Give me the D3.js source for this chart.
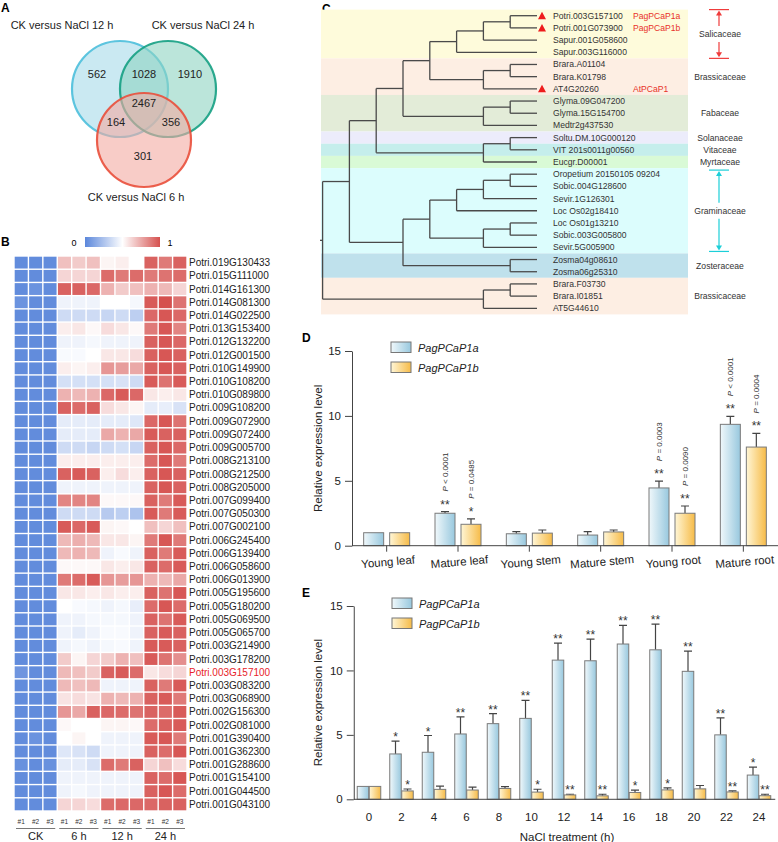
<!DOCTYPE html>
<html>
<head>
<meta charset="utf-8">
<script src="https://cdn.jsdelivr.net/npm/d3@7"></script>
<style>
body { margin: 0; background: #fff; }
svg { font-family: "Liberation Sans", Arial, sans-serif; }
</style>
</head>
<body>
<svg id="fig" width="778" height="842"></svg>
<script>
// ---------- data ----------
const vennSets = ["CK versus NaCl 12 h", "CK versus NaCl 24 h", "CK versus NaCl 6 h"];
// 12 only, 12&24, 24 only, all, 12&6, 24&6, 6 only
const vennCounts = [562, 1028, 1910, 2467, 164, 356, 301];

const heatGroups = ["CK", "6 h", "12 h", "24 h"];
const heatReps = ["#1", "#2", "#3"];
const heatGenes = [
  "Potri.019G130433","Potri.015G111000","Potri.014G161300","Potri.014G081300","Potri.014G022500",
  "Potri.013G153400","Potri.012G132200","Potri.012G001500","Potri.010G149900","Potri.010G108200",
  "Potri.010G089800","Potri.009G108200","Potri.009G072900","Potri.009G072400","Potri.009G005700",
  "Potri.008G213100","Potri.008G212500","Potri.008G205000","Potri.007G099400","Potri.007G050300",
  "Potri.007G002100","Potri.006G245400","Potri.006G139400","Potri.006G058600","Potri.006G013900",
  "Potri.005G195600","Potri.005G180200","Potri.005G069500","Potri.005G065700","Potri.003G214900",
  "Potri.003G178200","Potri.003G157100","Potri.003G083200","Potri.003G068900","Potri.002G156300",
  "Potri.002G081000","Potri.001G390400","Potri.001G362300","Potri.001G288600","Potri.001G154100",
  "Potri.001G044500","Potri.001G043100"
];
const highlightGene = "Potri.003G157100";
// CK #1-3, 6 h #1-3, 12 h #1-3, 24 h #1-3
const heatValues = [
  [0.02,0.02,0.02, 0.68,0.65,0.68, 0.53,0.55,0.50, 0.95,0.88,0.95],
  [0.02,0.02,0.02, 0.62,0.62,0.62, 0.92,0.88,0.92, 0.88,0.90,0.92],
  [0.02,0.05,0.02, 0.95,0.95,0.93, 0.72,0.65,0.68, 0.72,0.70,0.62],
  [0.05,0.02,0.02, 0.45,0.45,0.45, 0.50,0.50,0.47, 0.97,1.00,0.90],
  [0.02,0.02,0.02, 0.35,0.35,0.35, 0.33,0.35,0.30, 0.93,0.98,0.93],
  [0.02,0.02,0.02, 0.55,0.57,0.52, 0.60,0.57,0.52, 0.88,0.98,0.85],
  [0.02,0.02,0.02, 0.45,0.45,0.47, 0.45,0.45,0.45, 0.95,0.98,0.93],
  [0.02,0.02,0.02, 0.48,0.48,0.50, 0.57,0.57,0.60, 0.95,0.98,0.95],
  [0.02,0.02,0.02, 0.55,0.53,0.55, 0.80,0.78,0.75, 0.95,0.98,0.95],
  [0.02,0.02,0.02, 0.37,0.37,0.37, 0.37,0.38,0.35, 0.97,0.90,0.97],
  [0.02,0.02,0.02, 0.72,0.70,0.72, 0.93,0.97,0.93, 0.57,0.55,0.57],
  [0.02,0.02,0.02, 0.95,0.92,0.95, 0.60,0.57,0.53, 0.42,0.43,0.38],
  [0.02,0.02,0.02, 0.42,0.42,0.42, 0.42,0.42,0.40, 0.93,0.98,0.90],
  [0.02,0.02,0.02, 0.42,0.42,0.42, 0.75,0.72,0.75, 0.97,0.95,0.95],
  [0.02,0.02,0.02, 0.35,0.35,0.33, 0.35,0.37,0.33, 0.95,0.98,0.93],
  [0.02,0.02,0.02, 0.55,0.55,0.55, 0.55,0.55,0.55, 0.92,0.98,0.88],
  [0.02,0.02,0.02, 0.95,0.97,0.95, 0.55,0.60,0.55, 0.95,0.98,0.95],
  [0.02,0.02,0.02, 0.45,0.45,0.45, 0.45,0.45,0.45, 0.95,0.98,0.95],
  [0.02,0.02,0.02, 0.85,0.85,0.85, 0.52,0.52,0.52, 0.95,0.88,0.97],
  [0.02,0.02,0.02, 0.35,0.35,0.35, 0.28,0.30,0.25, 0.97,0.88,0.97],
  [0.02,0.02,0.02, 0.97,0.93,0.97, 0.53,0.52,0.50, 0.68,0.62,0.68],
  [0.02,0.02,0.02, 0.70,0.73,0.70, 0.57,0.57,0.53, 0.88,0.98,0.88],
  [0.02,0.02,0.02, 0.70,0.72,0.70, 0.45,0.48,0.45, 0.95,0.88,0.97],
  [0.02,0.02,0.02, 0.52,0.52,0.52, 0.57,0.55,0.57, 0.95,0.92,0.97],
  [0.02,0.02,0.02, 0.88,0.92,0.97, 0.80,0.78,0.80, 0.72,0.70,0.75],
  [0.02,0.02,0.02, 0.57,0.57,0.55, 0.57,0.55,0.55, 0.95,0.90,0.98],
  [0.02,0.02,0.02, 0.50,0.48,0.47, 0.45,0.47,0.43, 0.92,0.98,0.92],
  [0.02,0.02,0.02, 0.45,0.45,0.47, 0.47,0.47,0.45, 0.95,0.90,0.97],
  [0.02,0.02,0.02, 0.45,0.42,0.45, 0.48,0.48,0.45, 0.95,0.97,0.95],
  [0.02,0.02,0.02, 0.45,0.47,0.45, 0.47,0.48,0.45, 0.97,0.97,0.95],
  [0.02,0.02,0.02, 0.65,0.53,0.62, 0.65,0.72,0.68, 0.97,0.90,0.82],
  [0.06,0.02,0.02, 0.70,0.68,0.65, 0.95,0.97,0.92, 0.57,0.60,0.62],
  [0.02,0.02,0.02, 0.70,0.68,0.70, 0.45,0.45,0.45, 0.95,0.88,0.97],
  [0.02,0.02,0.02, 0.58,0.60,0.58, 0.72,0.70,0.72, 0.95,0.97,0.88],
  [0.02,0.02,0.02, 0.80,0.75,0.95, 0.93,0.92,0.90, 0.95,0.92,0.97],
  [0.02,0.02,0.02, 0.52,0.50,0.50, 0.53,0.53,0.52, 0.92,0.95,0.97],
  [0.02,0.05,0.02, 0.50,0.53,0.50, 0.45,0.45,0.45, 0.97,0.98,0.88],
  [0.02,0.02,0.02, 0.40,0.38,0.35, 0.45,0.45,0.45, 0.95,0.92,0.98],
  [0.04,0.02,0.04, 0.42,0.42,0.38, 0.92,0.88,0.95, 0.62,0.68,0.60],
  [0.02,0.02,0.02, 0.45,0.45,0.45, 0.45,0.45,0.45, 0.95,0.92,0.98],
  [0.02,0.02,0.02, 0.45,0.47,0.45, 0.45,0.45,0.45, 0.95,0.98,0.92],
  [0.02,0.02,0.02, 0.62,0.62,0.60, 0.92,0.93,0.93, 0.93,0.95,0.95]
];

// phylogenetic tree (nested leaf names)
const treeData = [
  [
    [
      [
        [
          [[["Potri.003G157100", "Potri.001G073900"], "Sapur.001G058600"], "Sapur.003G116000"],
          [["Brara.A01104", "Brara.K01798"], "AT4G20260"]
        ],
        [["Glyma.09G047200", "Glyma.15G154700"], "Medtr2g437530"]
      ],
      [["Soltu.DM.10G000120", "VIT 201s0011g00560"], "Eucgr.D00001"]
    ],
    [
      [
        [[["Oropetium 20150105 09204", "Sobic.004G128600"], "Sevir.1G126301"], "Loc Os02g18410"],
        [["Loc Os01g13210", "Sobic.003G005800"], "Sevir.5G005900"]
      ],
      ["Zosma04g08610", "Zosma06g25310"]
    ]
  ],
  [["Brara.F03730", "Brara.I01851"], "AT5G44610"]
];
const markedLeaves = ["Potri.003G157100", "Potri.001G073900", "AT4G20260"];
const leafAliases = {"Potri.003G157100": "PagPCaP1a", "Potri.001G073900": "PagPCaP1b", "AT4G20260": "AtPCaP1"};
const families = ["Salicaceae", "Brassicaceae", "Fabaceae", "Solanaceae", "Vitaceae", "Myrtaceae",
                  "Graminaceae", "Zosteraceae", "Brassicaceae"];
const familySpans = [[0, 3], [4, 6], [7, 9], [10, 10], [11, 11], [12, 12], [13, 19], [20, 21], [22, 24]];

// panel D
const tissues = ["Young leaf", "Mature leaf", "Young stem", "Mature stem", "Young root", "Mature root"];
const genes = ["PagPCaP1a", "PagPCaP1b"];
const tisA = [1.0, 2.5, 0.92, 0.82, 4.45, 9.35];
const tisAErr = [0, 0.13, 0.16, 0.26, 0.52, 0.62];
const tisB = [1.0, 1.65, 0.97, 1.06, 2.5, 7.6];
const tisBErr = [0, 0.42, 0.24, 0.15, 0.56, 1.05];
const tisAStar = ["", "**", "", "", "**", "**"];
const tisBStar = ["", "*", "", "", "**", "**"];
const tisAP = ["", "P < 0.0001", "", "", "P = 0.0003", "P < 0.0001"];
const tisBP = ["", "P = 0.0485", "", "", "P = 0.0090", "P = 0.0004"];

// panel E
const hours = ["0", "2", "4", "6", "8", "10", "12", "14", "16", "18", "20", "22", "24"];
const naA = [1.0, 3.52, 3.65, 5.07, 5.87, 6.28, 10.8, 10.75, 12.05, 11.6, 9.93, 5.0, 1.88];
const naAErr = [0, 1.0, 1.3, 1.32, 0.78, 1.4, 1.32, 1.68, 1.45, 2.0, 1.57, 1.32, 0.62];
const naB = [1.0, 0.65, 0.77, 0.72, 0.84, 0.56, 0.34, 0.27, 0.53, 0.73, 0.81, 0.57, 0.28];
const naBErr = [0, 0.15, 0.25, 0.22, 0.15, 0.22, 0.05, 0.12, 0.18, 0.15, 0.26, 0.08, 0.11];
const naAStar = ["", "*", "*", "**", "**", "**", "**", "**", "**", "**", "**", "**", "*"];
const naBStar = ["", "*", "", "", "", "*", "**", "**", "*", "*", "", "**", "**"];

// ---------- setup ----------
const svg = d3.select("#fig");
const defs = svg.append("defs");

function grad(id, c0, c1) {
  const g = defs.append("linearGradient").attr("id", id)
    .attr("x1", "0%").attr("x2", "100%").attr("y1", "0%").attr("y2", "0%");
  g.append("stop").attr("offset", "0%").attr("stop-color", c0);
  g.append("stop").attr("offset", "100%").attr("stop-color", c1);
}
grad("gBlue", "#f0f8fb", "#98c8de");
grad("gOrange", "#fff6d6", "#f6bb48");

const panelLabel = (t, x, y) => svg.append("text").attr("x", x).attr("y", y)
  .attr("font-size", 12).attr("font-weight", "bold").text(t);

// ---------- A: venn ----------
panelLabel("A", 1, 12);
const venn = svg.append("g");
const vennCircles = [
  {cx: 120, cy: 89, r: 48, fill: "#a6dbe9", stroke: "#4dbfdb"},
  {cx: 168, cy: 89, r: 48, fill: "#8ed3c2", stroke: "#15a083"},
  {cx: 144, cy: 140, r: 47, fill: "#f3aaa1", stroke: "#e94f3b"}
];
venn.selectAll("circle").data(vennCircles).enter().append("circle")
  .attr("cx", d => d.cx).attr("cy", d => d.cy).attr("r", d => d.r)
  .attr("fill", d => d.fill).attr("fill-opacity", 0.6)
  .attr("stroke", d => d.stroke).attr("stroke-width", 2.2).attr("stroke-opacity", 0.9);
const vennNumPos = [[97, 74], [144, 74], [190, 74], [144, 103], [116, 122], [171, 122], [143, 156]];
venn.selectAll("text.num").data(vennCounts).enter().append("text")
  .attr("class", "num")
  .attr("x", (d, i) => vennNumPos[i][0]).attr("y", (d, i) => vennNumPos[i][1] + 4)
  .attr("text-anchor", "middle").attr("font-size", 11).attr("fill", "#222").text(d => d);
const vennLabPos = [[62, 29], [203, 29], [136, 201]];
venn.selectAll("text.lab").data(vennSets).enter().append("text")
  .attr("class", "lab")
  .attr("x", (d, i) => vennLabPos[i][0]).attr("y", (d, i) => vennLabPos[i][1])
  .attr("text-anchor", "middle").attr("font-size", 11).attr("fill", "#222").text(d => d);

// ---------- B: heatmap ----------
panelLabel("B", 1, 246);
const heatColor = d3.scaleLinear().domain([0, 0.5, 1]).range(["#5b87db", "#ffffff", "#d5504e"]);
const hx = d3.scaleBand().domain(d3.range(12)).range([14, 187]);
const hy = d3.scaleBand().domain(heatGenes).range([256, 811]);

const cg = defs.append("linearGradient").attr("id", "gHeat");
[0, 0.25, 0.5, 0.75, 1].forEach(t => cg.append("stop")
  .attr("offset", (t * 100) + "%").attr("stop-color", heatColor(t)));
svg.append("rect").attr("x", 85).attr("y", 237).attr("width", 75).attr("height", 10)
  .attr("fill", "url(#gHeat)");
svg.append("text").attr("x", 74).attr("y", 246).attr("font-size", 9).attr("text-anchor", "middle").text("0");
svg.append("text").attr("x", 170).attr("y", 246).attr("font-size", 9).attr("text-anchor", "middle").text("1");

const heat = svg.append("g");
heatValues.forEach((row, r) => {
  heat.selectAll(null).data(row).enter().append("rect")
    .attr("x", (d, c) => hx(c) + 0.7).attr("y", hy(heatGenes[r]) + 0.7)
    .attr("width", hx.bandwidth() - 1.4).attr("height", hy.bandwidth() - 1.4)
    .attr("fill", d => heatColor(d));
});
heat.selectAll("text.gene").data(heatGenes).enter().append("text")
  .attr("class", "gene")
  .attr("x", 189).attr("y", d => hy(d) + hy.bandwidth() / 2 + 3.5)
  .attr("font-size", 10).attr("fill", d => d === highlightGene ? "#e8232a" : "#222")
  .text(d => d);

heatGroups.forEach((g, gi) => {
  heatReps.forEach((rp, ri) => {
    const c = gi * 3 + ri;
    heat.append("text").attr("x", hx(c) + hx.bandwidth() / 2).attr("y", 824)
      .attr("text-anchor", "middle").attr("font-size", 6.5).attr("fill", "#333").text(rp);
  });
  heat.append("line")
    .attr("x1", hx(gi * 3) + 2).attr("x2", hx(gi * 3 + 2) + hx.bandwidth() - 2)
    .attr("y1", 828.5).attr("y2", 828.5).attr("stroke", "#555").attr("stroke-width", 0.8);
  heat.append("text").attr("x", hx(gi * 3 + 1) + hx.bandwidth() / 2).attr("y", 840)
    .attr("text-anchor", "middle").attr("font-size", 11).attr("fill", "#222").text(g);
});

// ---------- C: tree ----------
panelLabel("C", 322, 13);
const toNode = d => typeof d === "string" ? {name: d} : {children: d.map(toNode)};
const root = d3.hierarchy(toNode(treeData));
const leaves = root.leaves();
const ty = d3.scalePoint().domain(leaves.map(d => d.data.name)).range([15.7, 308.3]);
const tx = d3.scaleLinear().domain([0, 8]).range([537, 322.6]);
const pitch = ty.step();
root.eachAfter(n => {
  n.px = tx(n.height);
  n.py = n.children ? (n.children[0].py + n.children[n.children.length - 1].py) / 2 : ty(n.data.name);
});

const tree = svg.append("g");
const famColors = ["#fefbdb", "#fdeee3", "#e3ecd8", "#ececfb", "#c5eeec", "#d9fad6", "#dcfdfd", "#bfe1ec", "#fdeee3"];
tree.selectAll("rect.band").data(familySpans).enter().append("rect")
  .attr("class", "band")
  .attr("x", 321).attr("width", 367)
  .attr("y", d => ty(leaves[d[0]].data.name) - pitch / 2)
  .attr("height", d => (d[1] - d[0] + 1) * pitch)
  .attr("fill", (d, i) => famColors[i]);

const lineCol = "#4a4a4a";
root.descendants().forEach(n => {
  if (n.parent) {
    tree.append("line").attr("x1", n.parent.px).attr("x2", n.px).attr("y1", n.py).attr("y2", n.py)
      .attr("stroke", lineCol).attr("stroke-width", 1.3);
  }
  if (n.children) {
    tree.append("line").attr("x1", n.px).attr("x2", n.px)
      .attr("y1", n.children[0].py).attr("y2", n.children[n.children.length - 1].py)
      .attr("stroke", lineCol).attr("stroke-width", 1.3);
  }
});
tree.append("line").attr("x1", 320).attr("x2", root.px).attr("y1", root.py).attr("y2", root.py)
  .attr("stroke", lineCol).attr("stroke-width", 1.3);

tree.selectAll("text.leaf").data(leaves).enter().append("text")
  .attr("class", "leaf").attr("x", 553).attr("y", d => d.py + 3)
  .attr("font-size", 8.6).attr("fill", "#333").text(d => d.data.name);
tree.selectAll("path.mark").data(leaves.filter(d => markedLeaves.includes(d.data.name))).enter()
  .append("path").attr("class", "mark")
  .attr("d", d => `M542,${d.py - 4}L546,${d.py + 3.5}L538,${d.py + 3.5}Z`)
  .attr("fill", "#ee1c1c");
tree.selectAll("text.alias").data(leaves.filter(d => leafAliases[d.data.name])).enter()
  .append("text").attr("class", "alias").attr("x", 633).attr("y", d => d.py + 3)
  .attr("font-size", 8.6).attr("fill", "#e8322a").text(d => leafAliases[d.data.name]);

tree.selectAll("text.fam").data(families).enter().append("text")
  .attr("class", "fam").attr("x", 720)
  .attr("y", (d, i) => (ty(leaves[familySpans[i][0]].data.name) + ty(leaves[familySpans[i][1]].data.name)) / 2 + 3)
  .attr("text-anchor", "middle").attr("font-size", 8.6).attr("fill", "#333").text(d => d);

function bracket(top, bottom, labelY, col) {
  const g = tree.append("g").attr("stroke", col).attr("fill", col).attr("stroke-width", 1.2);
  g.append("line").attr("x1", 709).attr("x2", 729).attr("y1", top).attr("y2", top);
  g.append("line").attr("x1", 709).attr("x2", 729).attr("y1", bottom).attr("y2", bottom);
  g.append("line").attr("x1", 719).attr("x2", 719).attr("y1", labelY - 8).attr("y2", top + 4);
  g.append("line").attr("x1", 719).attr("x2", 719).attr("y1", labelY + 8).attr("y2", bottom - 4);
  g.append("path").attr("stroke", "none").attr("d", `M719,${top + 1}L722,${top + 6}L716,${top + 6}Z`);
  g.append("path").attr("stroke", "none").attr("d", `M719,${bottom - 1}L722,${bottom - 6}L716,${bottom - 6}Z`);
}
const spanY = i => [ty(leaves[familySpans[i][0]].data.name) - pitch / 2,
                    ty(leaves[familySpans[i][1]].data.name) + pitch / 2];
bracket(spanY(0)[0], spanY(0)[1], (spanY(0)[0] + spanY(0)[1]) / 2, "#ef3b3b");
bracket(spanY(6)[0] + 2, spanY(6)[1] - 2, (spanY(6)[0] + spanY(6)[1]) / 2, "#1ccfd8");

// ---------- bar chart helper ----------
function barPanel(o) {
  const g = svg.append("g");
  const x = d3.scaleBand().domain(o.cats).range(o.xr);
  const y = d3.scaleLinear().domain([0, 15]).range(o.yr);
  const bw = o.bw, gap = o.gap;
  const series = [
    {vals: o.a, err: o.aErr, star: o.aStar, p: o.aP, fill: "url(#gBlue)", off: -gap / 2 - bw},
    {vals: o.b, err: o.bErr, star: o.bStar, p: o.bP, fill: "url(#gOrange)", off: gap / 2}
  ];
  series.forEach(s => {
    const rows = s.vals.map((v, i) => ({
      v, e: s.err[i], star: s.star[i], p: s.p ? s.p[i] : "",
      cx: x(o.cats[i]) + x.bandwidth() / 2 + s.off + bw / 2
    }));
    // error bars
    g.selectAll(null).data(rows.filter(d => d.e > 0)).enter().append("path")
      .attr("d", d => {
        const t = y(d.v + d.e);
        return `M${d.cx},${y(d.v)}V${t}M${d.cx - o.cap},${t}H${d.cx + o.cap}`;
      })
      .attr("stroke", "#444").attr("stroke-width", 1.2).attr("fill", "none");
    g.selectAll(null).data(rows).enter().append("rect")
      .attr("x", d => d.cx - bw / 2).attr("width", bw)
      .attr("y", d => y(d.v)).attr("height", d => y(0) - y(d.v))
      .attr("fill", s.fill).attr("stroke", "#7a7a7a").attr("stroke-width", 1);
    g.selectAll(null).data(rows.filter(d => d.star)).enter().append("text")
      .attr("x", d => d.cx).attr("y", d => y(d.v + d.e) - o.starGap)
      .attr("text-anchor", "middle").attr("font-size", 12).attr("fill", "#333")
      .text(d => d.star);
    g.selectAll(null).data(rows.filter(d => d.p)).enter().append("text")
      .attr("transform", d => `translate(${d.cx + 3},${y(d.v + d.e) - 20}) rotate(-90)`)
      .attr("font-size", 8).attr("fill", "#333")
      .html(d => `<tspan font-style="italic">P</tspan>${d.p.slice(1)}`);
  });

  const yAxis = d3.axisLeft(y).tickValues([0, 5, 10, 15]).tickSize(7).tickSizeOuter(0).tickPadding(4);
  const ya = g.append("g").attr("transform", `translate(${o.xr[0] + 1},0)`).call(yAxis);
  ya.selectAll("text").attr("font-size", 11.5).attr("fill", "#222").attr("font-family", null);
  ya.selectAll("line, path").attr("stroke", "#444");

  const xAxis = d3.axisBottom(x).tickSize(o.xTick).tickSizeOuter(0).tickPadding(o.xPad);
  const xa = g.append("g").attr("transform", `translate(0,${y(0)})`).call(xAxis);
  xa.select(".domain").attr("d", `M${o.xr[0] + 1},0H${o.xr[1]}`);
  xa.selectAll("line, path").attr("stroke", "#444");
  xa.selectAll("text").attr("font-size", 11.5).attr("fill", "#222").attr("font-family", null);
  if (o.rot) xa.selectAll("text").attr("transform", `rotate(${o.rot})`);

  g.append("text").attr("transform", `translate(322,${(o.yr[0] + o.yr[1]) / 2}) rotate(-90)`)
    .attr("text-anchor", "middle").attr("font-size", 11.5).attr("fill", "#222")
    .text("Relative expression level");

  // legend
  genes.forEach((gname, i) => {
    g.append("rect").attr("x", o.leg[0]).attr("y", o.leg[1] + i * 20).attr("width", 20).attr("height", 10.5)
      .attr("fill", i === 0 ? "url(#gBlue)" : "url(#gOrange)").attr("stroke", "#777");
    g.append("text").attr("x", o.leg[0] + 27).attr("y", o.leg[1] + i * 20 + 9.5)
      .attr("font-size", 11).attr("font-style", "italic").attr("fill", "#222").text(gname);
  });
  return g;
}

// ---------- D ----------
panelLabel("D", 302, 342);
barPanel({
  cats: tissues, xr: [351, 779], yr: [545.7, 351], bw: 20, gap: 6, cap: 4, starGap: 3,
  a: tisA, aErr: tisAErr, aStar: tisAStar, aP: tisAP,
  b: tisB, bErr: tisBErr, bStar: tisBStar, bP: tisBP,
  xTick: 6, xPad: 6, rot: -5, leg: [391, 342]
});

// ---------- E ----------
panelLabel("E", 302, 597);
const gE = barPanel({
  cats: hours, xr: [352.75, 775.25], yr: [799.3, 606], bw: 11.5, gap: 0.5, cap: 4, starGap: 0,
  a: naA, aErr: naAErr, aStar: naAStar, aP: null,
  b: naB, bErr: naBErr, bStar: naBStar, bP: null,
  xTick: 0, xPad: 14, rot: 0, leg: [392, 598]
});
gE.append("text").attr("x", 567).attr("y", 841).attr("text-anchor", "middle")
  .attr("font-size", 11.5).attr("fill", "#222").text("NaCl treatment (h)");
</script>
</body>
</html>
